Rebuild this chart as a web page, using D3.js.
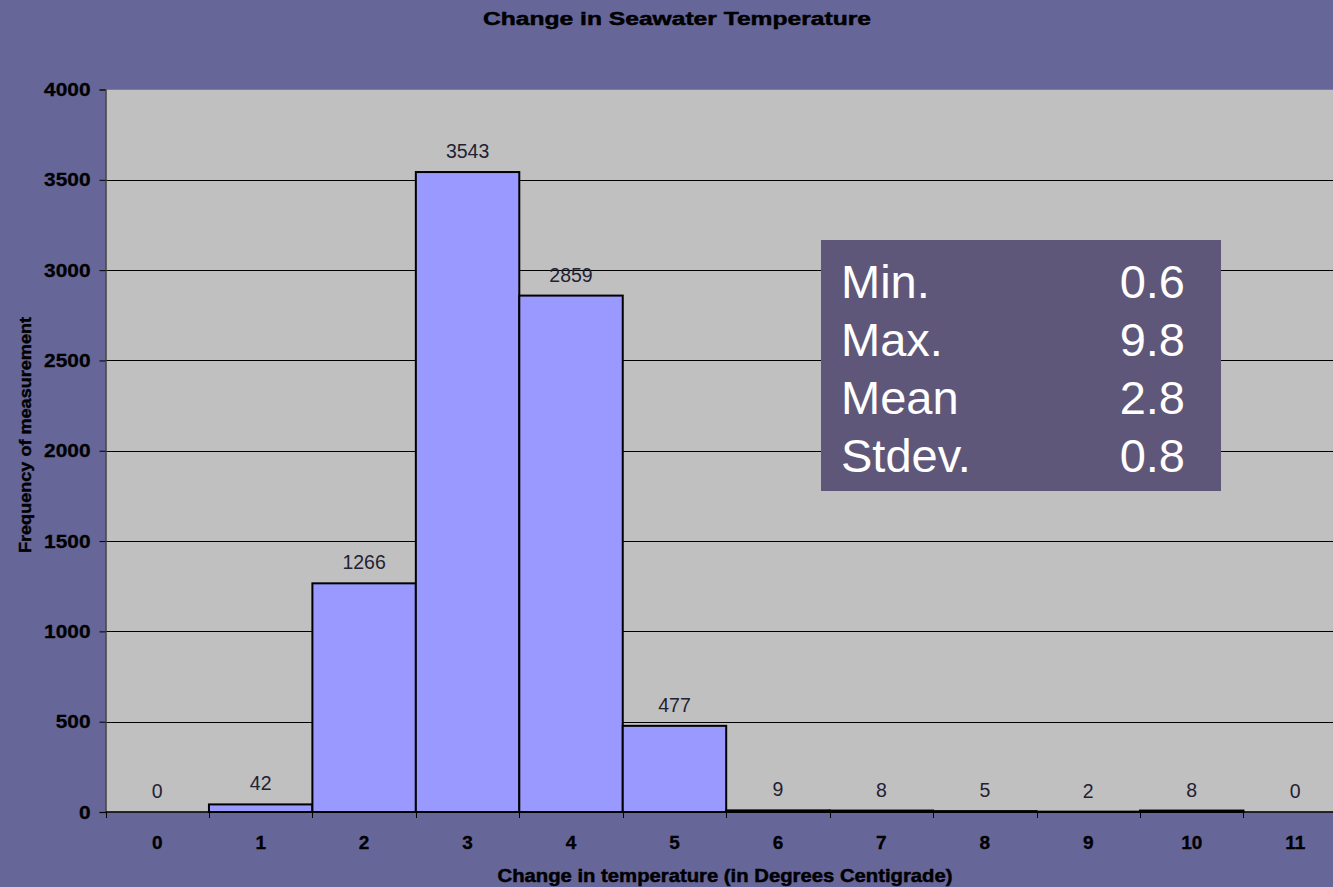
<!DOCTYPE html>
<html>
<head>
<meta charset="utf-8">
<script src="https://cdn.jsdelivr.net/npm/d3@7"></script>
<style>
html,body{margin:0;padding:0;background:#666699;overflow:hidden;}
svg{display:block;}
text{font-family:"Liberation Sans",Arial,sans-serif;}
</style>
</head>
<body>
<svg id="chart" width="1333" height="887"></svg>
<script>
const categories = ["0","1","2","3","4","5","6","7","8","9","10","11"];
const frequencies = [0, 42, 1266, 3543, 2859, 477, 9, 8, 5, 2, 8, 0];
const yTicks = [0, 500, 1000, 1500, 2000, 2500, 3000, 3500, 4000];
const statLabels = ["Min.", "Max.", "Mean", "Stdev."];
const statValues = ["0.6", "9.8", "2.8", "0.8"];
const chartTitle = "Change in Seawater Temperature";
const xTitle = "Change in temperature (in Degrees Centigrade)";
const yTitle = "Frequency of measurement";

const W = 1333, H = 887;
const plot = {left: 105.5, right: 1346.9, top: 89.5, bottom: 812};
const svg = d3.select("#chart");

svg.append("rect").attr("width", W).attr("height", H).attr("fill", "#666699");

const x = d3.scaleBand().domain(categories).range([plot.left, plot.right]).padding(0);
const y = d3.scaleLinear().domain([0, 4000]).range([plot.bottom, plot.top]);

// plot area
svg.append("rect")
  .attr("x", plot.left).attr("y", plot.top)
  .attr("width", plot.right - plot.left).attr("height", plot.bottom - plot.top)
  .attr("fill", "#C0C0C0").attr("stroke", "#808080").attr("stroke-width", 1);

// gridlines
svg.append("g").selectAll("line").data(yTicks.filter(d => d > 0 && d < 4000)).join("line")
  .attr("x1", plot.left).attr("x2", plot.right)
  .attr("y1", d => Math.round(y(d)) + 0.5).attr("y2", d => Math.round(y(d)) + 0.5)
  .attr("stroke", "#000").attr("stroke-width", 1);

// bars
svg.append("g").selectAll("rect").data(frequencies.map((v, i) => ({c: categories[i], v})).filter(d => d.v > 0)).join("rect")
  .attr("x", d => x(d.c)).attr("y", d => y(d.v))
  .attr("width", x.bandwidth()).attr("height", d => y(0) - y(d.v))
  .attr("fill", "#9999FF").attr("stroke", "#000").attr("stroke-width", 2);

// data labels
svg.append("g").selectAll("text").data(frequencies.map((v, i) => ({c: categories[i], v}))).join("text")
  .attr("x", d => x(d.c) + x.bandwidth() / 2)
  .attr("y", d => y(d.v) - 14)
  .attr("text-anchor", "middle")
  .attr("font-size", 19.5).attr("fill", "#222233")
  .text(d => d.v);

// y axis
const yAxis = d3.axisLeft(y).tickValues(yTicks).tickSize(6).tickPadding(9).tickFormat(d3.format("d"));
const gy = svg.append("g").attr("transform", `translate(${plot.left},0)`).call(yAxis);
gy.select(".domain").attr("stroke", "#404040").attr("stroke-width", 1.5);
gy.selectAll(".tick line").attr("stroke", "#000");
gy.selectAll(".tick text").attr("font-size", 19).attr("font-weight", "bold").attr("fill", "#000")
  .attr("stroke", "#000").attr("stroke-width", 0.3)
  .attr("font-family", "Liberation Sans, Arial, sans-serif")
  .attr("textLength", d => String(d).length * 11.6).attr("lengthAdjust", "spacingAndGlyphs");

// x axis (ticks at band boundaries)
const gx = svg.append("g").attr("transform", `translate(0,${plot.bottom})`);
gx.append("line").attr("x1", plot.left).attr("x2", plot.right).attr("y1", 0).attr("y2", 0)
  .attr("stroke", "#000").attr("stroke-width", 1.5);
const boundaries = categories.map(c => x(c)).concat([plot.right]);
gx.selectAll("line.tk").data(boundaries).join("line").attr("class", "tk")
  .attr("x1", d => Math.round(d) + 0.5).attr("x2", d => Math.round(d) + 0.5)
  .attr("y1", 0).attr("y2", 6).attr("stroke", "#000");
gx.selectAll("text").data(categories).join("text")
  .attr("x", d => x(d) + x.bandwidth() / 2).attr("y", 37)
  .attr("text-anchor", "middle").attr("font-size", 19).attr("font-weight", "bold")
  .attr("stroke", "#000").attr("stroke-width", 0.3)
  .attr("fill", "#000").text(d => d);

// titles
svg.append("text").attr("x", 677).attr("y", 25).attr("text-anchor", "middle")
  .attr("font-size", 19).attr("font-weight", "bold")
  .attr("stroke", "#000").attr("stroke-width", 0.5)
  .attr("textLength", 388).attr("lengthAdjust", "spacingAndGlyphs").text(chartTitle);
svg.append("text").attr("x", 725).attr("y", 882).attr("text-anchor", "middle")
  .attr("font-size", 19).attr("font-weight", "bold")
  .attr("stroke", "#000").attr("stroke-width", 0.5)
  .attr("textLength", 455).attr("lengthAdjust", "spacingAndGlyphs").text(xTitle);
svg.append("text").attr("transform", "translate(31,435) rotate(-90)").attr("text-anchor", "middle")
  .attr("font-size", 17).attr("font-weight", "bold")
  .attr("stroke", "#000").attr("stroke-width", 0.4)
  .attr("textLength", 236).attr("lengthAdjust", "spacingAndGlyphs").text(yTitle);

// stats box
const box = svg.append("g");
box.append("rect").attr("x", 821).attr("y", 240).attr("width", 400).attr("height", 251).attr("fill", "#5F5779");
box.selectAll("text.lbl").data(statLabels).join("text").attr("class", "lbl")
  .attr("x", 841).attr("y", (d, i) => 298 + i * 58)
  .attr("font-size", 47).attr("fill", "#fff").text(d => d);
box.selectAll("text.val").data(statValues).join("text").attr("class", "val")
  .attr("x", 1185).attr("y", (d, i) => 298 + i * 58).attr("text-anchor", "end")
  .attr("font-size", 47).attr("fill", "#fff").text(d => d);
</script>
</body>
</html>
